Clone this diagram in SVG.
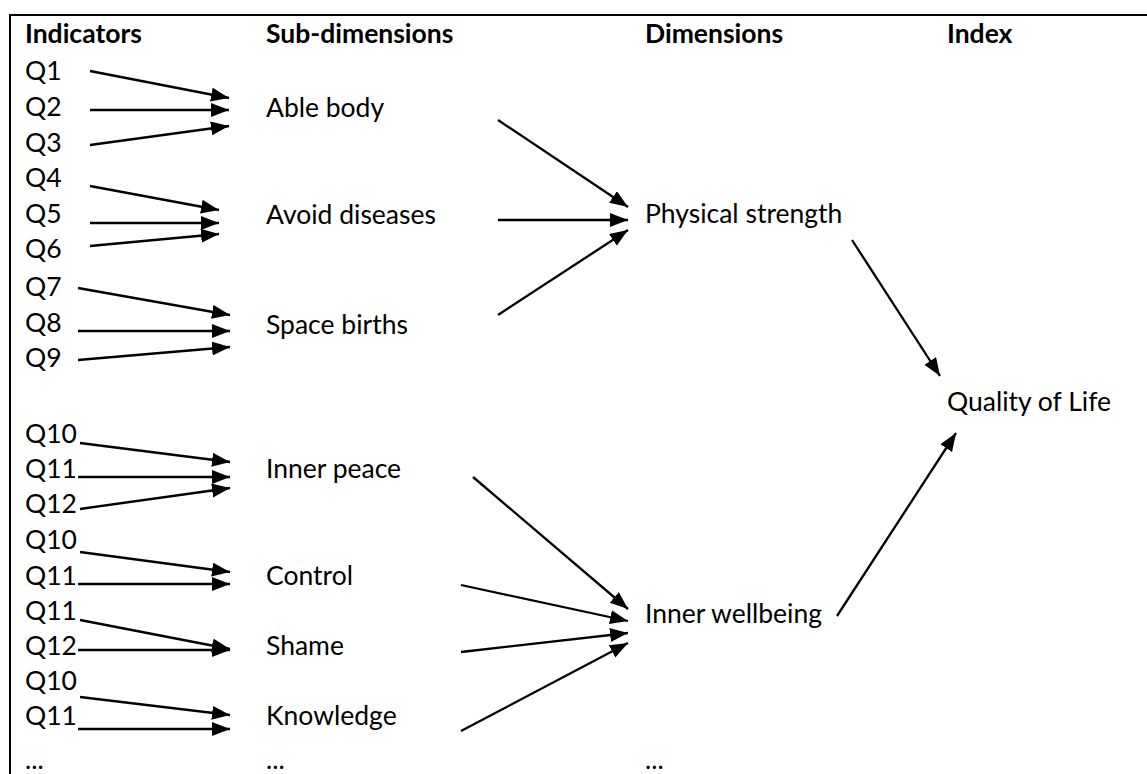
<svg xmlns="http://www.w3.org/2000/svg" width="1147" height="774" viewBox="0 0 1147 774">
<style>
text { font-family: Lato, "Liberation Sans", sans-serif; font-size: 26.5px; fill: #000; }
.h { font-weight: bold; }
.c { fill: none; stroke: #000; stroke-width: 2.3; marker-end: url(#ah); }
.frame { fill: none; stroke: #000; stroke-width: 2; }
</style>
<defs>
<marker id="ah" markerUnits="userSpaceOnUse" markerWidth="19" markerHeight="15" refX="18" refY="7" orient="auto">
<path d="M0,0 L18,7 L0,14 Z" fill="#000"/>
</marker>
</defs>
<rect width="1147" height="774" fill="#fff"/>
<path class="frame" d="M10,774 L10,15 L1147,15"/>
<g id="headers">
<text class="h" x="25" y="43">Indicators</text>
<text class="h" x="266" y="43">Sub-dimensions</text>
<text class="h" x="645" y="43">Dimensions</text>
<text class="h" x="947" y="43">Index</text>
</g>
<g id="indicators">
<text x="25" y="80">Q1</text>
<text x="25" y="116">Q2</text>
<text x="25" y="152">Q3</text>
<text x="25" y="187">Q4</text>
<text x="25" y="223">Q5</text>
<text x="25" y="258">Q6</text>
<text x="25" y="296">Q7</text>
<text x="25" y="332">Q8</text>
<text x="25" y="367">Q9</text>
<text x="25" y="443">Q10</text>
<text x="25" y="478">Q11</text>
<text x="25" y="513">Q12</text>
<text x="25" y="549">Q10</text>
<text x="25" y="585">Q11</text>
<text x="25" y="620">Q11</text>
<text x="25" y="655">Q12</text>
<text x="25" y="690">Q10</text>
<text x="25" y="725">Q11</text>
<text x="25" y="769">...</text>
</g>
<g id="able-body"><text x="266" y="117">Able body</text></g>
<g id="avoid-diseases"><text x="266" y="224">Avoid diseases</text></g>
<g id="space-births"><text x="266" y="334">Space births</text></g>
<g id="inner-peace"><text x="266" y="478">Inner peace</text></g>
<g id="control"><text x="266" y="585">Control</text></g>
<g id="shame"><text x="266" y="655">Shame</text></g>
<g id="knowledge"><text x="266" y="725">Knowledge</text></g>
<g id="subdim-more"><text x="266" y="769">...</text></g>
<g id="physical-strength"><text x="645" y="223">Physical strength</text></g>
<g id="inner-wellbeing"><text x="645" y="623">Inner wellbeing</text></g>
<g id="dim-more"><text x="645" y="769">...</text></g>
<g id="quality-of-life"><text x="947" y="411">Quality of Life</text></g>
<g id="connectors">
<line class="c" x1="90" y1="71" x2="229" y2="98"/>
<line class="c" x1="90" y1="110" x2="229" y2="110"/>
<line class="c" x1="90" y1="145" x2="229" y2="126"/>
<line class="c" x1="90" y1="186" x2="219" y2="210"/>
<line class="c" x1="90" y1="223" x2="219" y2="223"/>
<line class="c" x1="90" y1="246" x2="219" y2="234"/>
<line class="c" x1="78" y1="288" x2="230" y2="315"/>
<line class="c" x1="78" y1="331" x2="230" y2="331"/>
<line class="c" x1="78" y1="360" x2="230" y2="347"/>
<line class="c" x1="80" y1="443" x2="230" y2="462"/>
<line class="c" x1="78" y1="477" x2="230" y2="477"/>
<line class="c" x1="80" y1="509" x2="230" y2="488"/>
<line class="c" x1="80" y1="552" x2="230" y2="572"/>
<line class="c" x1="78" y1="584" x2="230" y2="584"/>
<line class="c" x1="80" y1="620" x2="230" y2="649"/>
<line class="c" x1="78" y1="650" x2="230" y2="650"/>
<line class="c" x1="80" y1="697" x2="230" y2="715"/>
<line class="c" x1="78" y1="729" x2="230" y2="729"/>
<line class="c" x1="498" y1="120" x2="628" y2="207"/>
<line class="c" x1="498" y1="220" x2="628" y2="220"/>
<line class="c" x1="498" y1="315" x2="628" y2="230"/>
<line class="c" x1="473" y1="477" x2="628" y2="609"/>
<line class="c" x1="461" y1="585" x2="628" y2="621"/>
<line class="c" x1="461" y1="652" x2="628" y2="633"/>
<line class="c" x1="461" y1="731" x2="628" y2="643"/>
<line class="c" x1="852" y1="240" x2="940" y2="376"/>
<line class="c" x1="837" y1="616" x2="956" y2="433"/>
</g>
</svg>
